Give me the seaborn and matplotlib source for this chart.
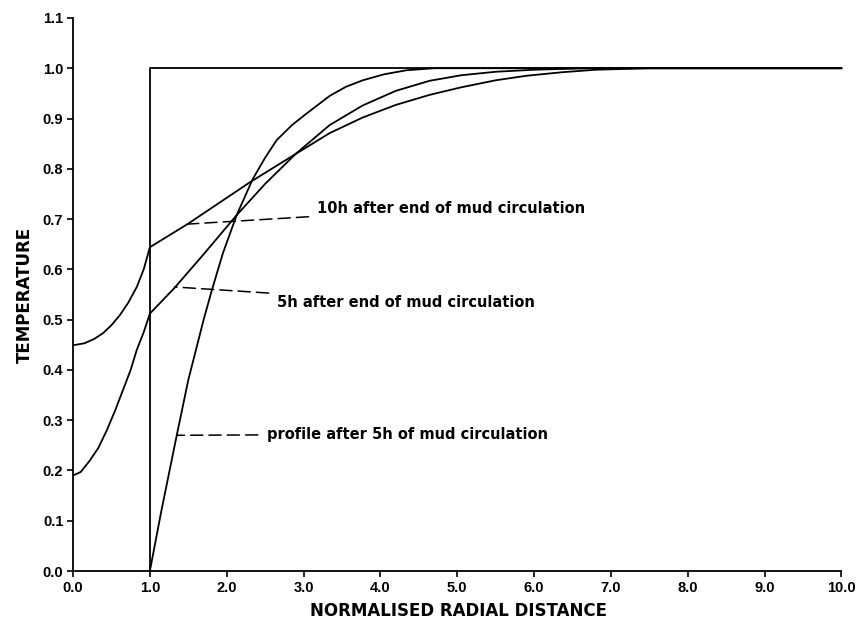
import matplotlib
matplotlib.use("Agg")
import matplotlib.pyplot as plt
import seaborn as sns

# ---- data ----
step_x = [1.0, 1.0, 10.0]
step_y = [0.0, 1.0, 1.0]

profile5h_x = [1.0, 1.15, 1.35, 1.50, 1.70, 1.80, 1.95, 2.13, 2.34, 2.50, 2.65,
               2.85, 3.04, 3.34, 3.55, 3.77, 4.05, 4.34, 4.70, 10.0]
profile5h_y = [0.0, 0.12, 0.27, 0.38, 0.50, 0.555, 0.632, 0.708, 0.78, 0.822, 0.857,
               0.887, 0.91, 0.945, 0.963, 0.976, 0.988, 0.996, 1.0, 1.0]

end5h_x = [0.0, 0.10, 0.22, 0.33, 0.44, 0.55, 0.65, 0.75, 0.83, 0.92, 1.0,
           1.32, 1.70, 2.13, 2.50, 2.90, 3.34, 3.77, 4.20, 4.64, 5.05, 5.50,
           6.00, 6.70, 10.0]
end5h_y = [0.19, 0.197, 0.22, 0.245, 0.28, 0.32, 0.36, 0.40, 0.44, 0.475, 0.512,
           0.563, 0.63, 0.708, 0.77, 0.83, 0.887, 0.926, 0.955, 0.975, 0.986, 0.993,
           0.997, 1.0, 1.0]

end10h_x = [0.0, 0.15, 0.28, 0.39, 0.50, 0.61, 0.72, 0.83, 0.92, 1.0,
            1.49, 1.90, 2.30, 2.86, 3.34, 3.77, 4.20, 4.64, 5.05, 5.50,
            5.90, 6.36, 6.80, 7.50, 10.0]
end10h_y = [0.449, 0.453, 0.462, 0.473, 0.489, 0.509, 0.534, 0.565, 0.60, 0.644,
            0.69, 0.732, 0.773, 0.826, 0.871, 0.902, 0.927, 0.947, 0.962, 0.976,
            0.985, 0.992, 0.997, 1.0, 1.0]

x_ticks = [0, 1, 2, 3, 4, 5, 6, 7, 8, 9, 10]
x_tick_labels = ["0.0", "1.0", "2.0", "3.0", "4.0", "5.0", "6.0", "7.0", "8.0", "9.0", "10.0"]
y_ticks = [0.0, 0.1, 0.2, 0.3, 0.4, 0.5, 0.6, 0.7, 0.8, 0.9, 1.0, 1.1]
y_tick_labels = ["0.0", "0.1", "0.2", "0.3", "0.4", "0.5", "0.6", "0.7", "0.8", "0.9", "1.0", "1.1"]

labels = ["10h after end of mud circulation",
          "5h after end of mud circulation",
          "profile after 5h of mud circulation"]
label_points = [(1.49, 0.69), (1.32, 0.565), (1.35, 0.27)]
label_text_pos = [(3.18, 0.722), (2.66, 0.535), (2.52, 0.272)]

# ---- plotting ----
sns.set_theme(style="ticks")
plt.rcParams["font.family"] = ["DejaVu Sans"]
plt.rcParams["font.weight"] = "bold"

fig = plt.figure(figsize=(8.57, 6.19), dpi=100)
ax = fig.add_axes([0.0852, 0.0775, 0.8985, 0.8935])

lw = 1.3
for xs, ys in [(step_x, step_y), (profile5h_x, profile5h_y),
               (end5h_x, end5h_y), (end10h_x, end10h_y)]:
    sns.lineplot(x=xs, y=ys, sort=False, estimator=None, color="black",
                 linewidth=lw, ax=ax)

for txt, pt, tp in zip(labels, label_points, label_text_pos):
    ax.annotate(txt, xy=pt, xytext=tp, textcoords="data",
                ha="left", va="center", fontsize=10.5, fontweight="bold",
                color="black", family="DejaVu Sans",
                arrowprops=dict(arrowstyle="-", color="black", lw=1.1,
                                linestyle=(0, (8, 4)), shrinkA=4, shrinkB=0))

ax.set_xlim(0, 10.02)
ax.set_ylim(0, 1.1)
ax.set_xticks(x_ticks)
ax.set_xticklabels(x_tick_labels)
ax.set_yticks(y_ticks)
ax.set_yticklabels(y_tick_labels)
ax.tick_params(axis="both", direction="out", length=4, width=1.2,
               labelsize=10.5, colors="black", pad=3)
for lab in ax.get_xticklabels() + ax.get_yticklabels():
    lab.set_fontweight("bold")
    lab.set_family("Liberation Sans")

sns.despine(ax=ax)
ax.spines["left"].set_bounds(0, 1.1)
ax.spines["bottom"].set_bounds(0, 10)
for s in ["left", "bottom"]:
    ax.spines[s].set_linewidth(1.3)
    ax.spines[s].set_color("black")

ax.set_xlabel("NORMALISED RADIAL DISTANCE", fontsize=12, fontweight="bold",
              color="black", labelpad=5, family="DejaVu Sans")
ax.set_ylabel("TEMPERATURE", fontsize=12, fontweight="bold",
              color="black", labelpad=6, family="DejaVu Sans")

fig.savefig("out.png", dpi=100, facecolor="white")
